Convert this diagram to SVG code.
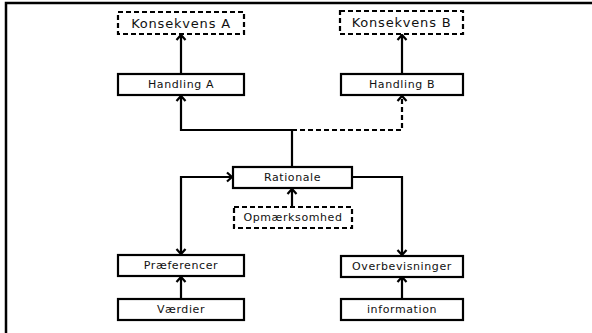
<svg xmlns="http://www.w3.org/2000/svg" width="592" height="333" viewBox="0 0 592 333">
  <style>
    .box { fill: #ffffff; stroke: #000000; stroke-width: 2.2; }
    .dashed { stroke-dasharray: 5 3; }
    .label { font-family: "DejaVu Sans", "Noto Sans", sans-serif; font-size: 11px; letter-spacing: 0.6px; fill: #111111; text-anchor: middle; dominant-baseline: central; }
    .big { font-size: 13px; letter-spacing: 0.8px; }
    .wire { fill: none; stroke: #000000; stroke-width: 2.2; }
  </style>
  <defs>
    <marker id="head" viewBox="-6 -6 8 12" markerWidth="8" markerHeight="12" refX="0" refY="0" orient="auto-start-reverse" markerUnits="userSpaceOnUse">
      <path d="M-5,-4.5 L0,0 L-5,4.5" fill="none" stroke="#000000" stroke-width="2.2" stroke-linejoin="miter"/>
    </marker>
  </defs>

  <rect x="0" y="0" width="592" height="333" fill="#ffffff"/>
  <!-- outer frame -->
  <rect x="6" y="3" width="620" height="360" fill="none" stroke="#000000" stroke-width="2.5"/>

  <g id="connectors">
    <line class="wire" x1="181" y1="74" x2="181" y2="35" marker-end="url(#head)"/>
    <line class="wire" x1="402" y1="74" x2="402" y2="35" marker-end="url(#head)"/>
    <path class="wire" d="M292,167 L292,130 L181,130 L181,96" marker-end="url(#head)"/>
    <path class="wire dashed" d="M292,130 L402,130 L402,96" marker-end="url(#head)"/>
    <line class="wire" x1="292" y1="207" x2="292" y2="189" marker-end="url(#head)"/>
    <path class="wire" d="M232,177 L181,177 L181,254" marker-start="url(#head)" marker-end="url(#head)"/>
    <path class="wire" d="M353,177 L402,177 L402,255" marker-end="url(#head)"/>
    <line class="wire" x1="181" y1="299" x2="181" y2="277" marker-end="url(#head)"/>
    <line class="wire" x1="402" y1="299" x2="402" y2="277" marker-end="url(#head)"/>
  </g>

  <g id="konsekvens-a">
    <rect class="box dashed" x="118" y="12" width="126" height="22"/>
    <text class="label big" x="181" y="23">Konsekvens A</text>
  </g>
  <g id="konsekvens-b">
    <rect class="box dashed" x="340" y="11" width="123" height="23"/>
    <text class="label big" x="401.5" y="22.5">Konsekvens B</text>
  </g>
  <g id="handling-a">
    <rect class="box" x="118" y="74" width="126" height="21"/>
    <text class="label" x="181" y="84.5">Handling A</text>
  </g>
  <g id="handling-b">
    <rect class="box" x="341" y="74" width="122" height="21"/>
    <text class="label" x="402" y="84.5">Handling B</text>
  </g>
  <g id="rationale">
    <rect class="box" x="233" y="167" width="119" height="21"/>
    <text class="label" x="292.5" y="177.5">Rationale</text>
  </g>
  <g id="opmaerksomhed">
    <rect class="box dashed" x="234" y="207" width="118" height="21"/>
    <text class="label" x="293" y="217.5">Opmærksomhed</text>
  </g>
  <g id="praeferencer">
    <rect class="box" x="118" y="255" width="126" height="21"/>
    <text class="label" x="181" y="265.5">Præferencer</text>
  </g>
  <g id="overbevisninger">
    <rect class="box" x="341" y="256" width="122" height="21"/>
    <text class="label" x="402" y="266.5">Overbevisninger</text>
  </g>
  <g id="vaerdier">
    <rect class="box" x="118" y="299" width="126" height="21"/>
    <text class="label" x="181" y="309.5">Værdier</text>
  </g>
  <g id="information">
    <rect class="box" x="341" y="299" width="122" height="21"/>
    <text class="label" x="402" y="309.5">information</text>
  </g>
</svg>
